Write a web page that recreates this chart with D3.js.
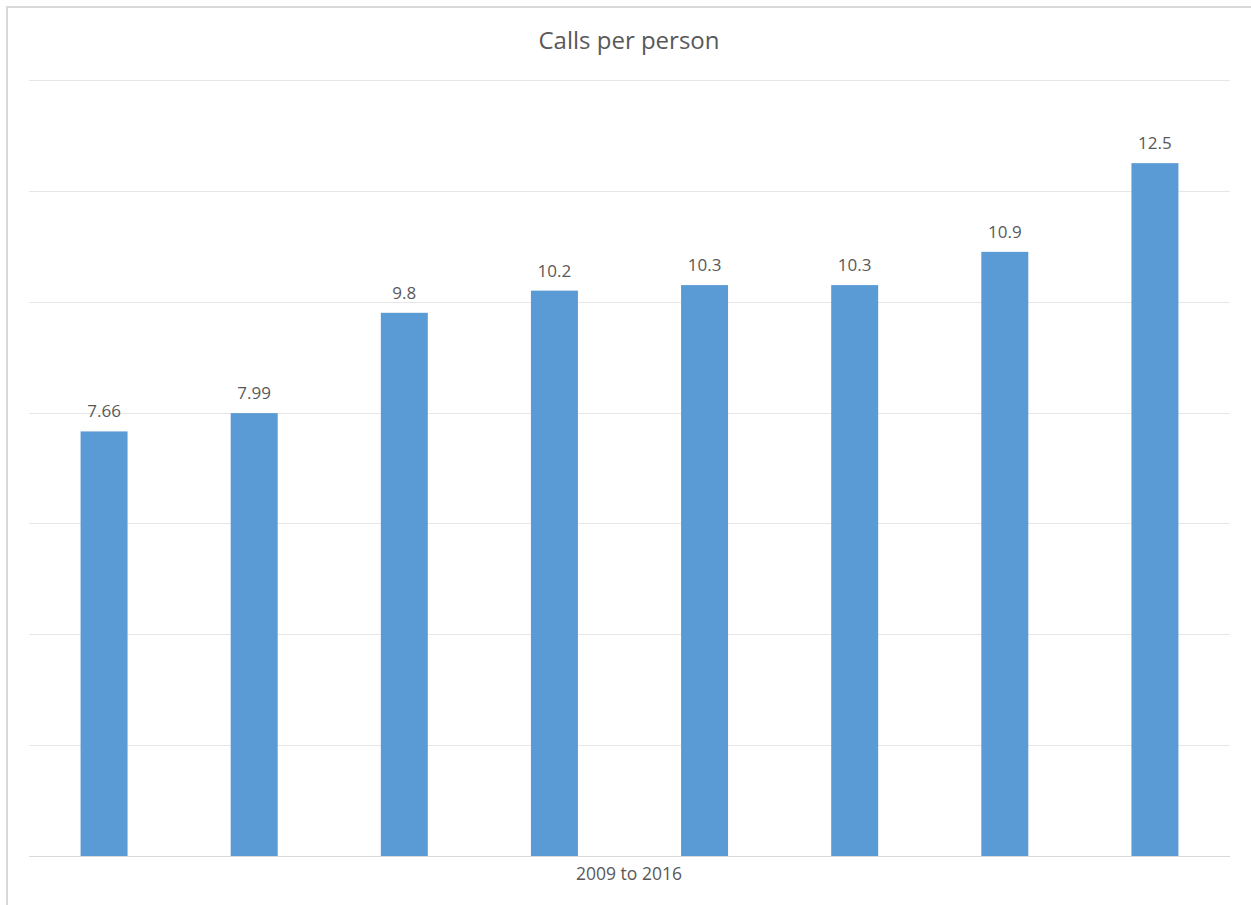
<!DOCTYPE html>
<html><head><meta charset="utf-8">
<script src="https://cdn.jsdelivr.net/npm/d3@7"></script>
<style>
html,body{margin:0;padding:0;background:#fff;}
svg{display:block;}
text{font-family:"Open Sans","Segoe UI",sans-serif;fill:#595959;}
</style></head>
<body>
<svg id="chart" width="1251" height="905"></svg>
<script>
const categories = ["2009","2010","2011","2012","2013","2014","2015","2016"];
const values = [7.66, 7.99, 9.8, 10.2, 10.3, 10.3, 10.9, 12.5];
const labels = ["7.66","7.99","9.8","10.2","10.3","10.3","10.9","12.5"];
const yTicks = [0,2,4,6,8,10,12,14];
const title = "Calls per person";
const xTitle = "2009 to 2016";

const svg = d3.select("#chart");
svg.append("rect").attr("x",0).attr("y",0).attr("width",1251).attr("height",905).attr("fill","#fff");
// chart border
svg.append("path").attr("d","M7,905 V7 H1251").attr("fill","none").attr("stroke","#d9d9d9").attr("stroke-width",2);

const x = d3.scaleBand().domain(categories).range([29,1230]).paddingInner(0.687).paddingOuter(0.3435);
const y = d3.scaleLinear().domain([0,14]).range([856,80]);

svg.append("g").selectAll("line").data(yTicks).join("line")
  .attr("x1",29).attr("x2",1230)
  .attr("y1",d=>Math.round(y(d))+0.5).attr("y2",d=>Math.round(y(d))+0.5)
  .attr("stroke",d=>d===0?"#d9d9d9":"#e6e6e6").attr("stroke-width",1);

svg.append("g").selectAll("rect").data(values).join("rect")
  .attr("x",(d,i)=>x(categories[i]))
  .attr("width",x.bandwidth())
  .attr("y",d=>y(d))
  .attr("height",d=>y(0)-y(d))
  .attr("fill","#5b9bd5");

svg.append("g").selectAll("text").data(values).join("text")
  .attr("x",(d,i)=>x(categories[i])+x.bandwidth()/2)
  .attr("y",d=>y(d)-14)
  .attr("text-anchor","middle")
  .attr("font-size",17)
  .text((d,i)=>labels[i]);

svg.append("text").attr("x",629).attr("y",49).attr("text-anchor","middle")
  .attr("font-size",24).text(title);
svg.append("text").attr("x",629).attr("y",880).attr("text-anchor","middle")
  .attr("font-size",17.5).text(xTitle);
</script>
</body></html>
